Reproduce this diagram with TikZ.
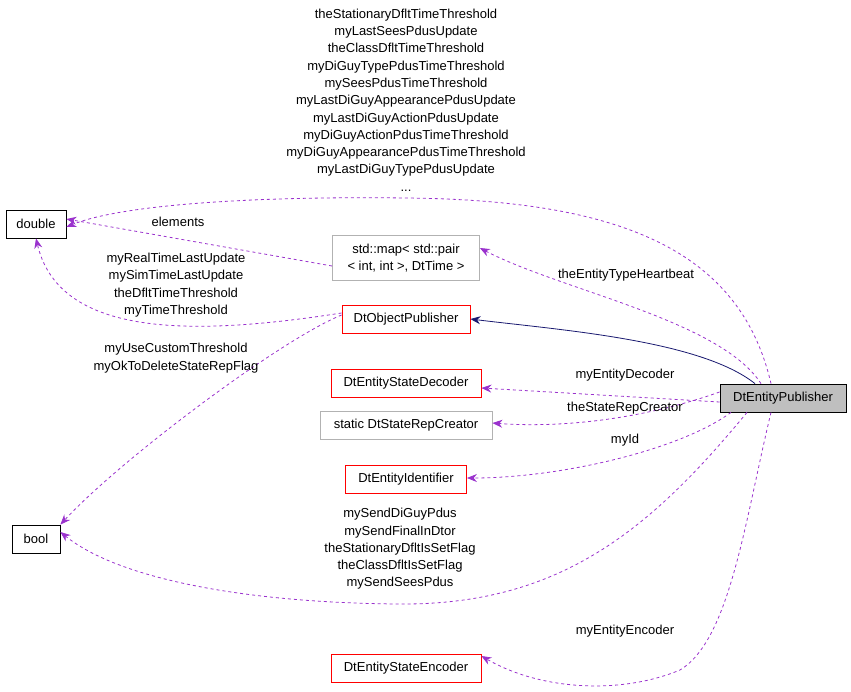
\documentclass[tikz,border=0pt]{standalone}
\usepackage{fontspec}
\setmainfont{Liberation Sans}
\usepackage{xcolor}
\usetikzlibrary{arrows.meta}
\definecolor{orchid}{HTML}{9A32CD}
\definecolor{navy}{HTML}{191970}
\begin{document}
\begin{tikzpicture}[x=1pt,y=-1pt,font=\fontsize{13}{17.3}\selectfont,line width=0.8pt,
	box/.style={draw, rectangle, inner sep=2pt, minimum height=28pt, align=center, font=\fontsize{13}{17}\selectfont},
	cls/.style={box, draw=red},
	ext/.style={box, draw=gray!60},
	use/.style={dashed, color=orchid, -{Stealth[length=10pt,width=8pt]}},
	lbl/.style={align=center, text=black}]
	\useasboundingbox (0,0) rectangle (851,691);
	% classes
	\node[box, minimum width=60pt] (double) at (36,224) {double};
	\node[box, minimum width=48pt] (bool) at (36,539) {bool};
	\node[ext, minimum width=147pt, minimum height=45pt] (map) at (406,258) {std::map< std::pair\\< int, int >, DtTime >};
	\node[cls, minimum width=128pt] (objpub) at (406,319) {DtObjectPublisher};
	\node[cls, minimum width=150pt] (decoder) at (406,383) {DtEntityStateDecoder};
	\node[ext, minimum width=172pt] (creator) at (406,425) {static DtStateRepCreator};
	\node[cls, minimum width=121pt] (ident) at (406,479) {DtEntityIdentifier};
	\node[cls, minimum width=150pt] (encoder) at (406,668) {DtEntityStateEncoder};
	\node[box, fill=gray!50, minimum width=126pt] (entpub) at (783,398) {DtEntityPublisher};
	% inheritance
	\draw[navy, -{Stealth[length=10pt,width=8pt]}] ([xshift=-28pt]entpub.north) .. controls (700,340) and (560,330) .. (objpub.east);
	% members
	\draw[use] ([xshift=-12pt]entpub.north) .. controls (740,250) and (620,200) .. (406,198) .. controls (250,196) and (120,205) .. ([yshift=-3pt]double.east);
	\node[lbl] at (406,100) {theStationaryDfltTimeThreshold\\myLastSeesPdusUpdate\\theClassDfltTimeThreshold\\myDiGuyTypePdusTimeThreshold\\mySeesPdusTimeThreshold\\myLastDiGuyAppearancePdusUpdate\\myLastDiGuyActionPdusUpdate\\myDiGuyActionPdusTimeThreshold\\myDiGuyAppearancePdusTimeThreshold\\myLastDiGuyTypePdusUpdate\\...};
	\draw[use] ([yshift=-8pt]map.west) -- ([yshift=5pt]double.east);
	\node[lbl] at (178,222) {elements};
	\draw[use] ([yshift=6pt]objpub.west) .. controls (200,335) and (60,340) .. (double.south);
	\node[lbl] at (176,285) {myRealTimeLastUpdate\\mySimTimeLastUpdate\\theDfltTimeThreshold\\myTimeThreshold};
	\draw[use] ([yshift=4pt]objpub.west) .. controls (280,340) and (120,460) .. (bool.north east);
	\node[lbl] at (176,358) {myUseCustomThreshold\\myOkToDeleteStateRepFlag};
	\draw[use] ([xshift=-22pt]entpub.north) .. controls (720,320) and (560,290) .. ([yshift=10pt]map.east);
	\node[lbl] at (626,275) {theEntityTypeHeartbeat};
	\draw[use] ([yshift=-4pt]entpub.west) -- ([yshift=-5pt]decoder.east);
	\node[lbl] at (625,375) {myEntityDecoder};
	\draw[use] ([yshift=6pt]entpub.west) .. controls (640,420) and (560,428) .. ([yshift=2pt]creator.east);
	\node[lbl] at (625,408) {theStateRepCreator};
	\draw[use] ([xshift=-52pt]entpub.south) .. controls (680,450) and (560,478) .. ([yshift=1pt]ident.east);
	\node[lbl] at (625,440) {myId};
	\draw[use] ([xshift=-36pt]entpub.south) .. controls (650,530) and (560,605) .. (400,604) .. controls (250,603) and (120,580) .. ([yshift=7pt]bool.east);
	\node[lbl] at (400,549) {mySendDiGuyPdus\\mySendFinalInDtor\\theStationaryDfltIsSetFlag\\theClassDfltIsSetFlag\\mySendSeesPdus};
	\draw[use] ([xshift=-12pt]entpub.south) .. controls (745,520) and (730,640) .. (680,670) .. controls (620,695) and (540,690) .. ([yshift=12pt]encoder.east);
	\node[lbl] at (625,631) {myEntityEncoder};
\end{tikzpicture}
\end{document}
